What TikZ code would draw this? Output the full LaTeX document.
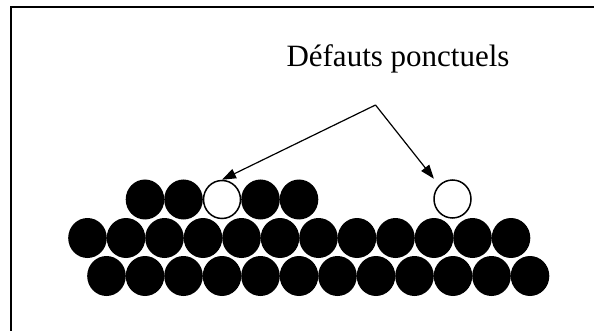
\documentclass[tikz,border=0pt]{standalone}
\usepackage{fontspec}
\setmainfont{Liberation Serif}
\usetikzlibrary{arrows.meta,shapes.geometric}
\begin{document}
\begin{tikzpicture}[x=1pt,y=-1pt,
  atom/.style={ellipse,fill=black,inner sep=0pt,minimum width=38.6pt,minimum height=40pt},
  vacancy/.style={ellipse,draw=black,fill=white,line width=1.5pt,inner sep=0pt,minimum width=37pt,minimum height=38pt},
  pointer/.style={line width=1.2pt,-{Triangle[length=14pt,width=10pt]}},
  frame/.style={line width=1.5pt}]
\useasboundingbox (0,0) rectangle (594,331);
\draw[frame] (11,340) -- (11,7) -- (600,7);
% bottom row
\foreach \k in {1,...,12}
  \node[atom] (b\k) at ({106.5+38.5*(\k-1)},276) {};
% middle row
\foreach \k in {1,...,12}
  \node[atom] (m\k) at ({87.5+38.5*(\k-1)},238) {};
% top row
\foreach \k in {1,2,4,5}
  \node[atom] (t\k) at ({145+38.5*(\k-1)},199.5) {};
\node[vacancy] (t3) at (222,199.5) {};
\node[vacancy] (w) at (452.5,199) {};
% label
\node[anchor=base,font=\fontsize{31}{36}\selectfont,inner sep=0pt] (lbl) at (398,66.7) {Défauts ponctuels};
\coordinate (apex) at (375.5,105);
\draw[pointer] (apex) -- (t3.north);
\draw[pointer,shorten >=8pt] (apex) -- (w.north west);
\end{tikzpicture}
\end{document}
